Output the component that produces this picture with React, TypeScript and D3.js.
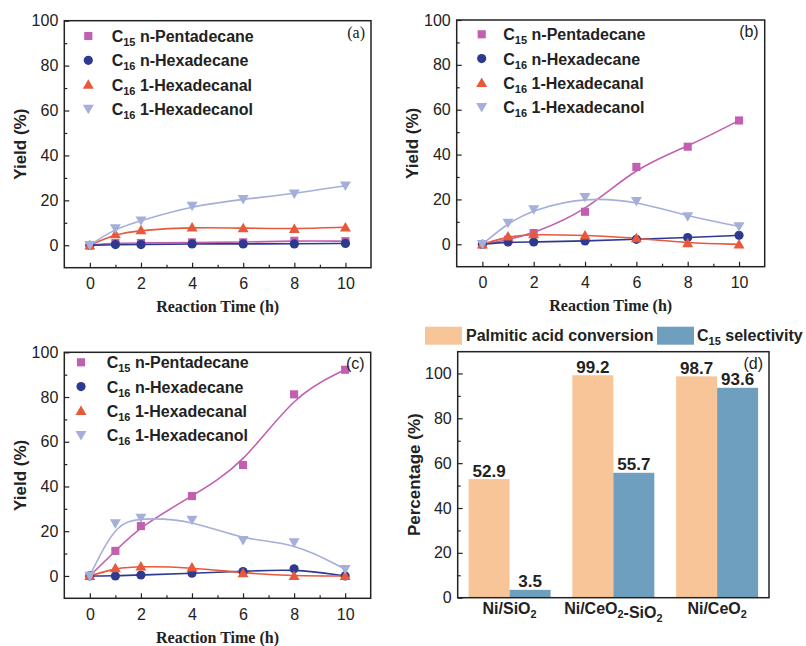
import React, { useEffect, useRef } from "react";
import * as d3 from "d3";

const SANS = "'Liberation Sans', Arial, Helvetica, sans-serif";
const SERIF = "'Liberation Serif', 'Times New Roman', serif";

// reaction times (h)
const times = [0, 1, 2, 4, 6, 8, 10];
const compounds = ["n-Pentadecane", "n-Hexadecane", "1-Hexadecanal", "1-Hexadecanol"];
const carbons = ["15", "16", "16", "16"];
const colors = ["#c15fb1", "#2d3a90", "#e8583b", "#a5afda"];

// panel (a)
const aPentadecane = [0, 1, 1, 1.3, 1.3, 2, 1.8];
const aHexadecane = [0, 0.3, 0.3, 0.6, 0.6, 0.6, 0.8];
const aHexadecanal = [0, 5, 6.7, 8, 7.6, 7.3, 8];
const aHexadecanol = [0, 7.5, 11, 17.5, 20.5, 23, 26.5];

// panel (b)
const bPentadecane = [0, 2, 5, 14.5, 34.5, 43.5, 55.2];
const bHexadecane = [0, 1, 1, 1.5, 2.2, 3, 4];
const bHexadecanal = [0, 3.5, 4.5, 4, 2.8, 0.5, 0];
const bHexadecanol = [0, 9.5, 15.5, 21, 19.2, 12.4, 8];

// panel (c)
const cPentadecane = [0, 11.2, 22.3, 35.7, 49.6, 81.2, 92.2];
const cHexadecane = [0, 0, 0.4, 1.2, 2, 3.2, 0];
const cHexadecanal = [0, 3.5, 4.3, 3.8, 1.3, 0, 0];
const cHexadecanol = [0, 23.5, 26, 25, 16, 15, 3];

const xTicks = [0, 2, 4, 6, 8, 10];
const xMinor = [1, 3, 5, 7, 9];
const yTicks = [0, 20, 40, 60, 80, 100];
const yMinor = [10, 30, 50, 70, 90];

// panel (d)
const catalysts = ["Ni/SiO2", "Ni/CeO2-SiO2", "Ni/CeO2"];
const conversion = [52.9, 99.2, 98.7];
const selectivity = [3.5, 55.7, 93.6];
const barColors = ["#f8c598", "#6f9fbf"];

function subText(sel, str, size) {
    // digits become subscripts
    const parts = str.split(/(\d+)/).filter((p) => p !== "");
    parts.forEach((p) => {
        if (/^\d+$/.test(p)) {
            sel.append("tspan").attr("font-size", size * 0.68).attr("dy", 4).text(p);
            sel.append("tspan").attr("dy", -4).text("");
        } else {
            sel.append("tspan").text(p);
        }
    });
}

function styleTicks(g) {
    g.selectAll(".domain").remove();
    g.selectAll(".tick line").attr("stroke", "#222").attr("stroke-width", 1.2);
    g.selectAll(".tick text").attr("font-family", SANS).attr("font-size", 16).attr("fill", "#222");
}

function drawFrame(svg, box, x, y) {
    const g = svg.append("g");
    g.append("g").attr("transform", `translate(0,${box.bottom})`)
        .call(d3.axisBottom(x).tickValues(xTicks).tickSize(-5).tickPadding(10).tickFormat(d3.format("d")));
    g.append("g").attr("transform", `translate(0,${box.bottom})`)
        .call(d3.axisBottom(x).tickValues(xMinor).tickSize(-3).tickFormat(() => ""));
    g.append("g").attr("transform", `translate(${box.left},0)`)
        .call(d3.axisLeft(y).tickValues(yTicks).tickSize(-5).tickPadding(6).tickFormat(d3.format("d")));
    g.append("g").attr("transform", `translate(${box.left},0)`)
        .call(d3.axisLeft(y).tickValues(yMinor).tickSize(-3).tickFormat(() => ""));
    styleTicks(g);

    svg.append("rect")
        .attr("x", box.left).attr("y", box.top)
        .attr("width", box.right - box.left).attr("height", box.bottom - box.top)
        .attr("fill", "none").attr("stroke", "#222").attr("stroke-width", 1.5);
}

function drawLinePanel(svg, cfg) {
    const { box, series, tag, tagFont, legend } = cfg;
    const x = d3.scaleLinear().domain([-1, 11]).range([box.left, box.right]);
    const y = d3.scaleLinear().domain([-10, 100]).range([box.bottom, box.top]);

    const line = d3.line().x((d) => x(d[0])).y((d) => y(d[1])).curve(d3.curveBasis);

    series.forEach((vals, i) => {
        svg.append("path")
            .datum(times.map((t, j) => [t, vals[j]]))
            .attr("d", line)
            .attr("fill", "none")
            .attr("stroke", colors[i])
            .attr("stroke-width", 1.6);
    });

    const symbols = [
        d3.symbol().type(d3.symbolSquare).size(66),
        d3.symbol().type(d3.symbolCircle).size(66),
        d3.symbol().type(d3.symbolTriangle).size(52),
        d3.symbol().type(d3.symbolTriangle).size(52),
    ];
    const shift = [0, 0, 1, -1];

    series.forEach((vals, i) => {
        svg.append("g").selectAll("path")
            .data(times.map((t, j) => [t, vals[j]]))
            .enter()
            .append("path")
            .attr("d", symbols[i]())
            .attr("fill", colors[i])
            .attr("transform", (d) => `translate(${x(d[0])},${y(d[1]) + shift[i]})${i === 3 ? " rotate(180)" : ""}`);
    });

    drawFrame(svg, box, x, y);

    // legend
    compounds.forEach((name, i) => {
        const ry = box.top + legend.dy + i * 24.3;
        svg.append("path")
            .attr("d", symbols[i]())
            .attr("fill", colors[i])
            .attr("transform", `translate(${box.left + legend.mx},${ry + shift[i]})${i === 3 ? " rotate(180)" : ""}`);
        const t = svg.append("text")
            .attr("x", box.left + legend.tx)
            .attr("y", ry + 6)
            .attr("font-family", SANS)
            .attr("font-weight", "bold")
            .attr("font-size", 16)
            .attr("fill", "#222");
        t.append("tspan").text("C");
        t.append("tspan").attr("font-size", 11).attr("dy", 4).text(carbons[i]);
        t.append("tspan").attr("dy", -4).text(" " + name);
    });

    svg.append("text")
        .attr("x", box.right - 6).attr("y", box.top + 17)
        .attr("text-anchor", "end")
        .attr("font-family", tagFont)
        .attr("font-size", 16)
        .attr("fill", "#222")
        .text(tag);

    svg.append("text")
        .attr("x", (box.left + box.right) / 2)
        .attr("y", box.bottom + 44.5)
        .attr("text-anchor", "middle")
        .attr("font-family", SERIF)
        .attr("font-weight", "bold")
        .attr("font-size", 16)
        .attr("fill", "#222")
        .text("Reaction Time (h)");

    svg.append("text")
        .attr("transform", `translate(${box.left - 44},${(box.top + box.bottom) / 2}) rotate(-90)`)
        .attr("text-anchor", "middle")
        .attr("dominant-baseline", "central")
        .attr("font-family", SANS)
        .attr("font-weight", "bold")
        .attr("font-size", 17)
        .attr("fill", "#222")
        .text("Yield (%)");
}

function drawBarPanel(svg, box) {
    const x0 = d3.scaleBand().domain(catalysts).range([box.left, box.right]).paddingInner(0.21).paddingOuter(0.105);
    const x1 = d3.scaleBand().domain(["conv", "sel"]).range([0, x0.bandwidth()]);
    const y = d3.scaleLinear().domain([0, 109.7]).range([box.bottom, box.top]);

    const groups = [conversion, selectivity];
    groups.forEach((vals, k) => {
        const key = k === 0 ? "conv" : "sel";
        const rows = catalysts.map((c, i) => ({ c, v: vals[i] }));
        svg.append("g").selectAll("rect")
            .data(rows)
            .enter()
            .append("rect")
            .attr("x", (d) => x0(d.c) + x1(key))
            .attr("y", (d) => y(d.v))
            .attr("width", x1.bandwidth())
            .attr("height", (d) => y(0) - y(d.v))
            .attr("fill", barColors[k]);
        svg.append("g").selectAll("text")
            .data(rows)
            .enter()
            .append("text")
            .attr("x", (d) => x0(d.c) + x1(key) + x1.bandwidth() / 2)
            .attr("y", (d) => y(d.v) - 2.5)
            .attr("text-anchor", "middle")
            .attr("font-family", SANS)
            .attr("font-weight", "bold")
            .attr("font-size", 17)
            .attr("fill", "#222")
            .text((d) => d.v.toFixed(1));
    });

    const g = svg.append("g");
    g.append("g").attr("transform", `translate(${box.left},0)`)
        .call(d3.axisLeft(y).tickValues(yTicks).tickSize(-5).tickPadding(6).tickFormat(d3.format("d")));
    g.append("g").attr("transform", `translate(${box.left},0)`)
        .call(d3.axisLeft(y).tickValues(yMinor).tickSize(-3).tickFormat(() => ""));
    styleTicks(g);

    svg.append("rect")
        .attr("x", box.left).attr("y", box.top)
        .attr("width", box.right - box.left).attr("height", box.bottom - box.top)
        .attr("fill", "none").attr("stroke", "#222").attr("stroke-width", 1.5);

    catalysts.forEach((c) => {
        const t = svg.append("text")
            .attr("x", x0(c) + x0.bandwidth() / 2)
            .attr("y", box.bottom + 16)
            .attr("text-anchor", "middle")
            .attr("font-family", SANS)
            .attr("font-weight", "bold")
            .attr("font-size", 16)
            .attr("fill", "#222");
        subText(t, c, 16);
    });

    svg.append("text")
        .attr("transform", `translate(${box.left - 43},${(box.top + box.bottom) / 2}) rotate(-90)`)
        .attr("text-anchor", "middle")
        .attr("dominant-baseline", "central")
        .attr("font-family", SANS)
        .attr("font-weight", "bold")
        .attr("font-size", 17)
        .attr("fill", "#222")
        .text("Percentage (%)");

    svg.append("text")
        .attr("x", box.right - 6).attr("y", box.top + 17)
        .attr("text-anchor", "end")
        .attr("font-family", SANS)
        .attr("font-size", 16)
        .attr("fill", "#222")
        .text("(d)");

    // legend above the frame
    const ly = box.top - 25;
    svg.append("rect").attr("x", 425).attr("y", ly).attr("width", 37).attr("height", 18).attr("fill", barColors[0]);
    svg.append("text").attr("x", 466).attr("y", ly + 14.5)
        .attr("font-family", SANS).attr("font-weight", "bold").attr("font-size", 16).attr("fill", "#222")
        .text("Palmitic acid conversion");
    svg.append("rect").attr("x", 657).attr("y", ly).attr("width", 37).attr("height", 18).attr("fill", barColors[1]);
    const t2 = svg.append("text").attr("x", 697).attr("y", ly + 14.5)
        .attr("font-family", SANS).attr("font-weight", "bold").attr("font-size", 16).attr("fill", "#222");
    t2.append("tspan").text("C");
    t2.append("tspan").attr("font-size", 11).attr("dy", 4).text("15");
    t2.append("tspan").attr("dy", -4).text(" selectivity");
}

export default function App() {
    const svgRef = useRef(null);

    useEffect(() => {
        const svg = d3.select(svgRef.current);
        svg.selectAll("*").remove();

        drawLinePanel(svg, {
            box: { left: 64.3, right: 371, top: 20.7, bottom: 267.7 },
            series: [aPentadecane, aHexadecane, aHexadecanal, aHexadecanol],
            tag: "(a)", tagFont: SERIF,
            legend: { dy: 15.3, mx: 24, tx: 47.4 },
        });
        drawLinePanel(svg, {
            box: { left: 456.7, right: 764.7, top: 20, bottom: 266.7 },
            series: [bPentadecane, bHexadecane, bHexadecanal, bHexadecanol],
            tag: "(b)", tagFont: SANS,
            legend: { dy: 14.3, mx: 25, tx: 46.6 },
        });
        drawLinePanel(svg, {
            box: { left: 64.3, right: 370.7, top: 352.3, bottom: 598.3 },
            series: [cPentadecane, cHexadecane, cHexadecanal, cHexadecanol],
            tag: "(c)", tagFont: SANS,
            legend: { dy: 10, mx: 16.7, tx: 42.4 },
        });
        drawBarPanel(svg, { left: 457.7, right: 769, top: 351.7, bottom: 597.7 });
    }, []);

    return (
        <svg
            ref={svgRef}
            width={806}
            height={646}
            style={{ position: "absolute", left: 0, top: 0, background: "#fff" }}
        />
    );
}
